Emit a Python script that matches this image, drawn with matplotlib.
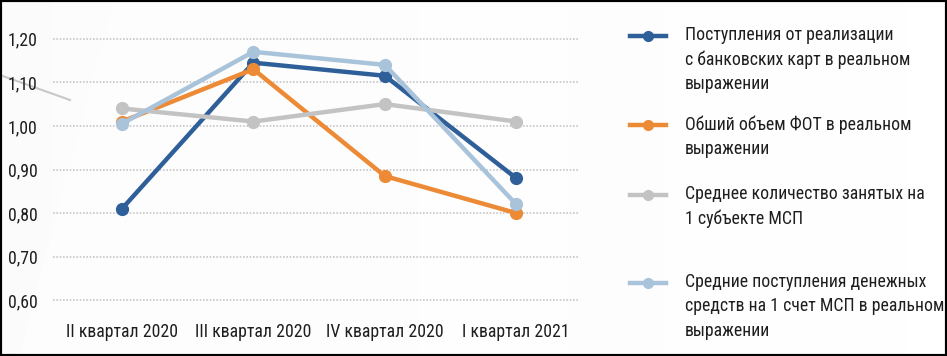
import numpy as np
import matplotlib.pyplot as plt
from matplotlib.lines import Line2D
from matplotlib.patches import Rectangle, Polygon

plt.rcParams['font.family'] = ['Roboto Condensed', 'DejaVu Sans']

# --------------------------
# Data
# --------------------------
quarters = ["II квартал 2020", "III квартал 2020", "IV квартал 2020", "I квартал 2021"]
card_revenue = [0.81, 1.145, 1.115, 0.88]
payroll = [1.01, 1.13, 0.885, 0.80]
employees = [1.04, 1.01, 1.05, 1.01]
account_inflow = [1.005, 1.17, 1.14, 0.82]
y_ticks = [0.60, 0.70, 0.80, 0.90, 1.00, 1.10, 1.20]

series_labels = [
    "Поступления от реализации\nс банковских карт в реальном\nвыражении",
    "Обший объем ФОТ в реальном\nвыражении",
    "Среднее количество занятых на\n1 субъекте МСП",
    "Средние поступления денежных\nсредств на 1 счет МСП в реальном\nвыражении",
]
series_colors = ["#2F5F99", "#EC8A36", "#C3C3C3", "#A8C3DA"]

W, H = 947, 356
fig = plt.figure(figsize=(W / 100, H / 100), dpi=100)

# --------------------------
# Background
# --------------------------
bg = fig.add_axes([0, 0, 1, 1], zorder=-10)
grad = np.linspace(0, 1, 256)[None, :]
bg.imshow(grad, cmap="Greys_r", vmin=-10, vmax=1, aspect="auto",
          extent=[0, 1, 0, 1], alpha=0.3)
bg.add_patch(Polygon([[0.02, 0.0], [0.12, 1], [0.6, 1], [0.6, 0.0]],
                     closed=True, facecolor="white", alpha=0.5, edgecolor="none"))
bg.plot([0, 70 / W], [1 - 75 / H, 1 - 100 / H], color="#C8C8C8", lw=1.5)
bg.set_xlim(0, 1)
bg.set_ylim(0, 1)
bg.axis("off")

# --------------------------
# Lines
# --------------------------
ax = fig.add_axes([53 / W, 1 - 309 / H, (578 - 53) / W, (309 - 30) / H])
ax.patch.set_alpha(0)
x = np.arange(len(quarters))
all_series = [card_revenue, payroll, employees, account_inflow]
draw_order = [2, 1, 3, 0]
for i in draw_order:
    ax.plot(x, all_series[i], color=series_colors[i], lw=3.2, marker="o",
            markersize=8.5, clip_on=False, zorder=3 + i)

ax.set_xlim(-0.525, 3.47)
ax.set_ylim(0.58, 1.22)
ax.set_yticks(y_ticks)
ax.set_yticklabels([f"{v:.2f}".replace(".", ",") for v in y_ticks])
ax.set_xticks(x)
ax.set_xticklabels(quarters)
ax.tick_params(length=0, labelsize=12.8, colors="#1E1E1E")
ax.tick_params(axis="y", pad=11)
ax.tick_params(axis="x", pad=10)
ax.grid(axis="y", color="#C8C8C8", linestyle=(0, (1, 1)), lw=1.2)
ax.set_axisbelow(True)
for s in ax.spines.values():
    s.set_visible(False)

# --------------------------
# Legend (manual)
# --------------------------
legend_rows = [36, 125, 195, 283]
for lab, col, yy in zip(series_labels, series_colors, legend_rows):
    yf = 1 - yy / H
    fig.add_artist(Line2D([630 / W, 666 / W], [yf, yf], color=col, lw=3.2,
                          transform=fig.transFigure))
    fig.add_artist(Line2D([648 / W], [yf], color=col, marker="o", markersize=7,
                          transform=fig.transFigure))
    fig.text(685 / W, 1 - (yy - 10) / H, lab, ha="left", va="top",
             fontsize=12.8, color="#1E1E1E", linespacing=1.45)

# frame
fig.add_artist(Rectangle((0, 0), 1, 1, transform=fig.transFigure,
                         fill=False, edgecolor="black", lw=3))

fig.savefig("out.png", dpi=100)
